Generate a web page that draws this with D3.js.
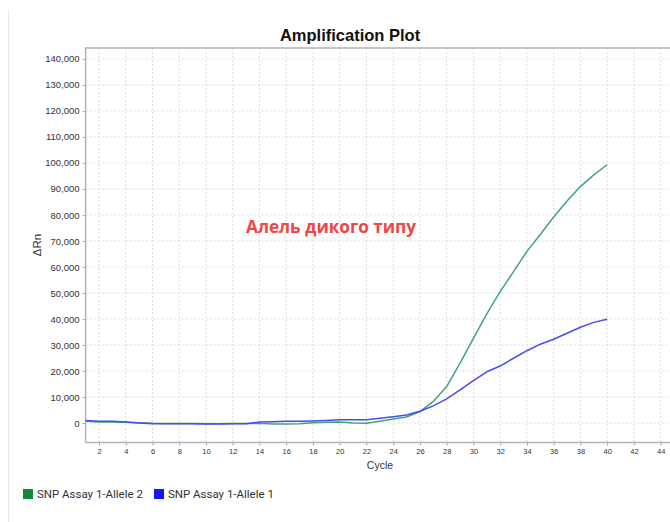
<!DOCTYPE html>
<html>
<head>
<meta charset="utf-8">
<script src="https://cdn.jsdelivr.net/npm/d3@7"></script>
<style>
  html, body { margin: 0; padding: 0; background: #fff; }
  svg { display: block; }
</style>
</head>
<body>
<svg id="chart" width="670" height="522"></svg>
<script>
// Amplification data: ΔRn per PCR cycle for the two alleles
const cycles = d3.range(1, 41);
const allele2 = [640, 380, 380, 260, 130, -130, -200, -200, -200, -250,
                 -250, -200, -200, -130, -380, -380, -250, 130, 260, 380,
                 0, -130, 640, 1540, 2300, 4400, 8300, 14000, 23000, 32500,
                 42000, 50500, 58200, 66000, 72500, 79200, 85400, 90900, 95400, 99300];
const allele1 = [1000, 640, 640, 380, 0, -250, -250, -250, -250, -380,
                 -380, -250, -250, 380, 500, 640, 640, 770, 1000, 1280,
                 1280, 1280, 1800, 2400, 3100, 4500, 6600, 9300, 12700, 16300,
                 19700, 21900, 24900, 27800, 30300, 32200, 34500, 36800, 38700, 39900];
const seriesNames = ["SNP Assay 1-Allele 2", "SNP Assay 1-Allele 1"];
const xTicks = d3.range(2, 45, 2);
const yTicks = d3.range(0, 140001, 10000);

const svg = d3.select("#chart");
const plotL = 85.6, plotR = 674, plotT = 48, plotB = 442.5;

const x = d3.scaleLinear().domain([1, 45]).range([plotL, plotR]);
const y = d3.scaleLinear().domain([-7500, 144200]).range([plotB, plotT]);

// shrink or grow a text node so it spans the given width
function fitWidth(sel, size, width) {
  const w = sel.node().getComputedTextLength();
  sel.attr("font-size", size * width / w);
}

// faint panel edge on the left
svg.append("line")
  .attr("x1", 8.5).attr("x2", 8.5).attr("y1", 10).attr("y2", 522)
  .attr("stroke", "#e6e6e6").attr("stroke-width", 1);

// title
svg.append("text")
  .attr("x", 350).attr("y", 41)
  .attr("text-anchor", "middle")
  .attr("font-family", "Liberation Sans, Arial, sans-serif")
  .attr("font-weight", "bold")
  .attr("font-size", 16.5)
  .attr("fill", "#111")
  .text("Amplification Plot");

// dashed grid
const grid = svg.append("g");
grid.selectAll("line.v").data(xTicks).join("line")
  .attr("class", "v")
  .attr("x1", d => x(d)).attr("x2", d => x(d))
  .attr("y1", plotT).attr("y2", plotB)
  .attr("stroke", "#dcdcdc").attr("stroke-dasharray", "2,2");
grid.selectAll("line.h").data(yTicks).join("line")
  .attr("class", "h")
  .attr("x1", plotL).attr("x2", plotR)
  .attr("y1", d => y(d)).attr("y2", d => y(d))
  .attr("stroke", "#dcdcdc").attr("stroke-dasharray", "2,2");

// axes
const yAxis = svg.append("g")
  .attr("transform", `translate(${plotL},0)`)
  .call(d3.axisLeft(y).tickValues(yTicks).tickFormat(d3.format(",")).tickSize(3).tickPadding(3));
const xAxis = svg.append("g")
  .attr("transform", `translate(0,${plotB})`)
  .call(d3.axisBottom(x).tickValues(xTicks).tickSize(3).tickPadding(3));

[yAxis, xAxis].forEach(g => {
  g.select(".domain").remove();
  g.selectAll(".tick line").attr("stroke", "#aaa");
  g.selectAll(".tick text")
    .attr("fill", "#333")
    .attr("font-family", "Liberation Sans, Arial, sans-serif");
});
yAxis.selectAll(".tick text").attr("font-size", 9.5);
xAxis.selectAll(".tick text").attr("font-size", 7.5);

// plot frame: left, bottom and top edges
svg.append("path")
  .attr("d", `M${plotR},${plotT}H${plotL}V${plotB}H${plotR}`)
  .attr("fill", "none")
  .attr("stroke", "#b4b4b4")
  .attr("stroke-width", 1.5);

// axis titles
svg.append("text")
  .attr("transform", `translate(41,245) rotate(-90)`)
  .attr("text-anchor", "middle")
  .attr("font-family", "Liberation Sans, Arial, sans-serif")
  .attr("font-size", 11.5)
  .attr("fill", "#333")
  .text("ΔRn");
svg.append("text")
  .attr("x", 380).attr("y", 469)
  .attr("text-anchor", "middle")
  .attr("font-family", "Liberation Sans, Arial, sans-serif")
  .attr("font-size", 10.5)
  .attr("fill", "#333")
  .text("Cycle");

// amplification curves
const line = d3.line().x((d, i) => x(cycles[i])).y(d => y(d));
const lineColors = ["#42a37b", "#4b4bef"];
[allele2, allele1].forEach((vals, k) => {
  svg.append("path")
    .datum(vals)
    .attr("d", line)
    .attr("fill", "none")
    .attr("stroke", lineColors[k])
    .attr("stroke-width", 1.5)
    .attr("stroke-linejoin", "round");
});

// annotation
const note = svg.append("text")
  .attr("x", 331).attr("y", 233)
  .attr("text-anchor", "middle")
  .attr("font-family", "Open Sans, Noto Sans, sans-serif")
  .attr("font-weight", "bold")
  .attr("font-size", 17)
  .attr("fill", "#ef4646")
  .text("Алель дикого типу");
fitWidth(note, 17, 170);

// legend
const legendColors = ["#15893d", "#1414ff"];
const legendX = [23, 154];
seriesNames.forEach((name, k) => {
  svg.append("rect")
    .attr("x", legendX[k]).attr("y", 489)
    .attr("width", 10).attr("height", 10)
    .attr("fill", legendColors[k]);
  const t = svg.append("text")
    .attr("x", legendX[k] + 14).attr("y", 498)
    .attr("font-family", "Roboto, sans-serif")
    .attr("font-size", 11)
    .attr("fill", "#333")
    .text(name);
  fitWidth(t, 11, 106);
});
</script>
</body>
</html>
